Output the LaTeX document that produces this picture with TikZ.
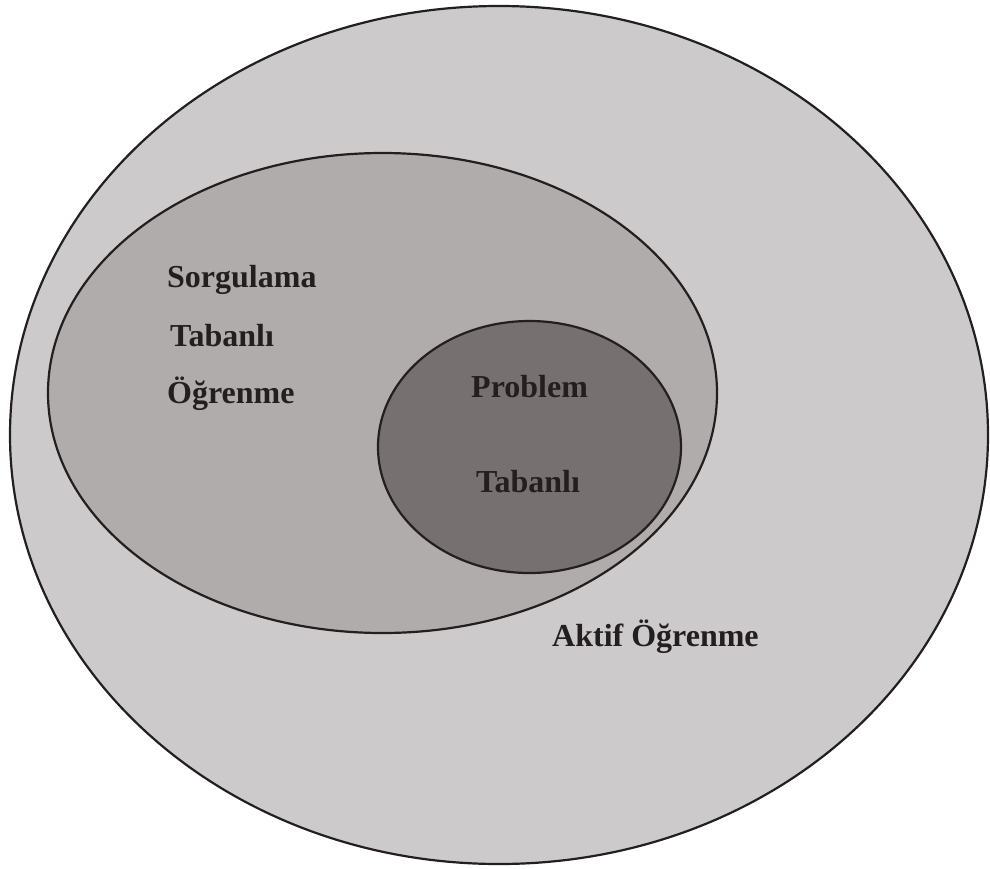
\documentclass[tikz,border=0pt]{standalone}
\usepackage{fontspec}
\setmainfont{Liberation Serif}
\definecolor{outerfill}{HTML}{CDCACB}
\definecolor{midfill}{HTML}{B0ACAB}
\definecolor{innerfill}{HTML}{767170}
\definecolor{ink}{HTML}{231F20}
\begin{document}
\begin{tikzpicture}[x=1pt,y=-1pt,
  ring/.style={draw=ink,line width=2.2pt},
  lbl/.style={anchor=base west,inner sep=0pt,text=ink,font=\fontsize{32}{38}\selectfont\bfseries}]
\useasboundingbox (0,0) rectangle (990,868);
% nested regions
\path[ring,fill=outerfill] (499,435) ellipse [x radius=489,y radius=429];
\path[ring,fill=midfill] (382.5,393) ellipse [x radius=334.5,y radius=240];
\path[ring,fill=innerfill] (529.5,447) ellipse [x radius=151.5,y radius=126];
% labels
\node[lbl] (s1) at (167,287) {Sorgulama};
\node[lbl] (s2) at (170,346) {Tabanlı};
\node[lbl] (s3) at (167,403) {Öğrenme};
\node[lbl] (p1) at (471,397) {Problem};
\node[lbl] (p2) at (476,492) {Tabanlı};
\node[lbl] (a1) at (552,646) {Aktif Öğrenme};
\end{tikzpicture}
\end{document}
